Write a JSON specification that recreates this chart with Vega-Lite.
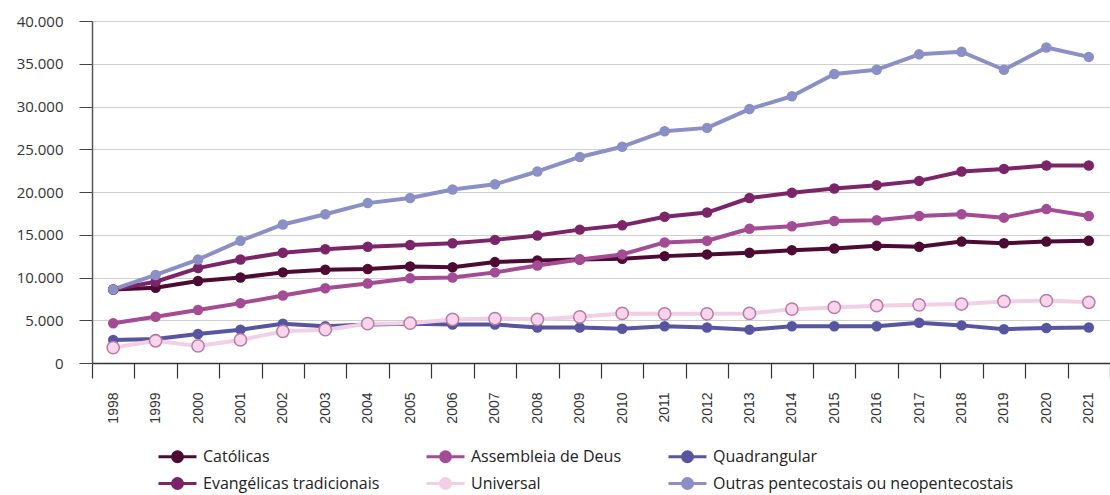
{
  "$schema": "https://vega.github.io/schema/vega-lite/v6.json",
  "width": 1018,
  "height": 342,
  "autosize": "none",
  "padding": {"left": 92, "top": 21, "right": 0, "bottom": 132},
  "background": "white",
  "config": {
    "locale": {"number": {"decimal": ",", "thousands": ".", "grouping": [3], "currency": ["R$", ""]}},
    "view": {"stroke": null},
    "font": "Open Sans"
  },
  "data": {"values": [
    {"year":"1998","series":"Católicas","value":8600},{"year":"1999","series":"Católicas","value":8800},{"year":"2000","series":"Católicas","value":9600},{"year":"2001","series":"Católicas","value":10000},{"year":"2002","series":"Católicas","value":10600},{"year":"2003","series":"Católicas","value":10900},{"year":"2004","series":"Católicas","value":11000},{"year":"2005","series":"Católicas","value":11300},{"year":"2006","series":"Católicas","value":11200},{"year":"2007","series":"Católicas","value":11800},{"year":"2008","series":"Católicas","value":12000},{"year":"2009","series":"Católicas","value":12100},{"year":"2010","series":"Católicas","value":12200},{"year":"2011","series":"Católicas","value":12500},{"year":"2012","series":"Católicas","value":12700},{"year":"2013","series":"Católicas","value":12900},{"year":"2014","series":"Católicas","value":13200},{"year":"2015","series":"Católicas","value":13400},{"year":"2016","series":"Católicas","value":13700},{"year":"2017","series":"Católicas","value":13600},{"year":"2018","series":"Católicas","value":14200},{"year":"2019","series":"Católicas","value":14000},{"year":"2020","series":"Católicas","value":14200},{"year":"2021","series":"Católicas","value":14300},
    {"year":"1998","series":"Evangélicas tradicionais","value":8600},{"year":"1999","series":"Evangélicas tradicionais","value":9500},{"year":"2000","series":"Evangélicas tradicionais","value":11100},{"year":"2001","series":"Evangélicas tradicionais","value":12100},{"year":"2002","series":"Evangélicas tradicionais","value":12900},{"year":"2003","series":"Evangélicas tradicionais","value":13300},{"year":"2004","series":"Evangélicas tradicionais","value":13600},{"year":"2005","series":"Evangélicas tradicionais","value":13800},{"year":"2006","series":"Evangélicas tradicionais","value":14000},{"year":"2007","series":"Evangélicas tradicionais","value":14400},{"year":"2008","series":"Evangélicas tradicionais","value":14900},{"year":"2009","series":"Evangélicas tradicionais","value":15600},{"year":"2010","series":"Evangélicas tradicionais","value":16100},{"year":"2011","series":"Evangélicas tradicionais","value":17100},{"year":"2012","series":"Evangélicas tradicionais","value":17600},{"year":"2013","series":"Evangélicas tradicionais","value":19300},{"year":"2014","series":"Evangélicas tradicionais","value":19900},{"year":"2015","series":"Evangélicas tradicionais","value":20400},{"year":"2016","series":"Evangélicas tradicionais","value":20800},{"year":"2017","series":"Evangélicas tradicionais","value":21300},{"year":"2018","series":"Evangélicas tradicionais","value":22400},{"year":"2019","series":"Evangélicas tradicionais","value":22700},{"year":"2020","series":"Evangélicas tradicionais","value":23100},{"year":"2021","series":"Evangélicas tradicionais","value":23100},
    {"year":"1998","series":"Assembleia de Deus","value":4650},{"year":"1999","series":"Assembleia de Deus","value":5400},{"year":"2000","series":"Assembleia de Deus","value":6200},{"year":"2001","series":"Assembleia de Deus","value":7000},{"year":"2002","series":"Assembleia de Deus","value":7900},{"year":"2003","series":"Assembleia de Deus","value":8750},{"year":"2004","series":"Assembleia de Deus","value":9300},{"year":"2005","series":"Assembleia de Deus","value":9900},{"year":"2006","series":"Assembleia de Deus","value":10000},{"year":"2007","series":"Assembleia de Deus","value":10600},{"year":"2008","series":"Assembleia de Deus","value":11400},{"year":"2009","series":"Assembleia de Deus","value":12100},{"year":"2010","series":"Assembleia de Deus","value":12700},{"year":"2011","series":"Assembleia de Deus","value":14100},{"year":"2012","series":"Assembleia de Deus","value":14300},{"year":"2013","series":"Assembleia de Deus","value":15700},{"year":"2014","series":"Assembleia de Deus","value":16000},{"year":"2015","series":"Assembleia de Deus","value":16600},{"year":"2016","series":"Assembleia de Deus","value":16700},{"year":"2017","series":"Assembleia de Deus","value":17200},{"year":"2018","series":"Assembleia de Deus","value":17400},{"year":"2019","series":"Assembleia de Deus","value":17000},{"year":"2020","series":"Assembleia de Deus","value":18000},{"year":"2021","series":"Assembleia de Deus","value":17200},
    {"year":"1998","series":"Quadrangular","value":2700},{"year":"1999","series":"Quadrangular","value":2800},{"year":"2000","series":"Quadrangular","value":3400},{"year":"2001","series":"Quadrangular","value":3900},{"year":"2002","series":"Quadrangular","value":4600},{"year":"2003","series":"Quadrangular","value":4300},{"year":"2004","series":"Quadrangular","value":4500},{"year":"2005","series":"Quadrangular","value":4600},{"year":"2006","series":"Quadrangular","value":4500},{"year":"2007","series":"Quadrangular","value":4500},{"year":"2008","series":"Quadrangular","value":4150},{"year":"2009","series":"Quadrangular","value":4150},{"year":"2010","series":"Quadrangular","value":4000},{"year":"2011","series":"Quadrangular","value":4300},{"year":"2012","series":"Quadrangular","value":4150},{"year":"2013","series":"Quadrangular","value":3900},{"year":"2014","series":"Quadrangular","value":4300},{"year":"2015","series":"Quadrangular","value":4300},{"year":"2016","series":"Quadrangular","value":4300},{"year":"2017","series":"Quadrangular","value":4700},{"year":"2018","series":"Quadrangular","value":4400},{"year":"2019","series":"Quadrangular","value":3950},{"year":"2020","series":"Quadrangular","value":4100},{"year":"2021","series":"Quadrangular","value":4150},
    {"year":"1998","series":"Universal","value":1800},{"year":"1999","series":"Universal","value":2600},{"year":"2000","series":"Universal","value":2000},{"year":"2001","series":"Universal","value":2700},{"year":"2002","series":"Universal","value":3700},{"year":"2003","series":"Universal","value":3900},{"year":"2004","series":"Universal","value":4600},{"year":"2005","series":"Universal","value":4650},{"year":"2006","series":"Universal","value":5100},{"year":"2007","series":"Universal","value":5200},{"year":"2008","series":"Universal","value":5100},{"year":"2009","series":"Universal","value":5400},{"year":"2010","series":"Universal","value":5800},{"year":"2011","series":"Universal","value":5750},{"year":"2012","series":"Universal","value":5750},{"year":"2013","series":"Universal","value":5800},{"year":"2014","series":"Universal","value":6300},{"year":"2015","series":"Universal","value":6500},{"year":"2016","series":"Universal","value":6700},{"year":"2017","series":"Universal","value":6800},{"year":"2018","series":"Universal","value":6900},{"year":"2019","series":"Universal","value":7200},{"year":"2020","series":"Universal","value":7300},{"year":"2021","series":"Universal","value":7100},
    {"year":"1998","series":"Outras pentecostais ou neopentecostais","value":8600},{"year":"1999","series":"Outras pentecostais ou neopentecostais","value":10300},{"year":"2000","series":"Outras pentecostais ou neopentecostais","value":12100},{"year":"2001","series":"Outras pentecostais ou neopentecostais","value":14300},{"year":"2002","series":"Outras pentecostais ou neopentecostais","value":16200},{"year":"2003","series":"Outras pentecostais ou neopentecostais","value":17400},{"year":"2004","series":"Outras pentecostais ou neopentecostais","value":18700},{"year":"2005","series":"Outras pentecostais ou neopentecostais","value":19300},{"year":"2006","series":"Outras pentecostais ou neopentecostais","value":20300},{"year":"2007","series":"Outras pentecostais ou neopentecostais","value":20900},{"year":"2008","series":"Outras pentecostais ou neopentecostais","value":22400},{"year":"2009","series":"Outras pentecostais ou neopentecostais","value":24100},{"year":"2010","series":"Outras pentecostais ou neopentecostais","value":25300},{"year":"2011","series":"Outras pentecostais ou neopentecostais","value":27100},{"year":"2012","series":"Outras pentecostais ou neopentecostais","value":27500},{"year":"2013","series":"Outras pentecostais ou neopentecostais","value":29700},{"year":"2014","series":"Outras pentecostais ou neopentecostais","value":31200},{"year":"2015","series":"Outras pentecostais ou neopentecostais","value":33800},{"year":"2016","series":"Outras pentecostais ou neopentecostais","value":34300},{"year":"2017","series":"Outras pentecostais ou neopentecostais","value":36100},{"year":"2018","series":"Outras pentecostais ou neopentecostais","value":36400},{"year":"2019","series":"Outras pentecostais ou neopentecostais","value":34300},{"year":"2020","series":"Outras pentecostais ou neopentecostais","value":36900},{"year":"2021","series":"Outras pentecostais ou neopentecostais","value":35800}
  ]},
  "encoding": {
    "x": {
      "field": "year", "type": "ordinal",
      "scale": {"type": "band", "paddingInner": 0, "paddingOuter": 0},
      "axis": {
        "title": null, "labelAngle": -90, "tickBand": "extent", "tickSize": 15,
        "tickColor": "#333", "domainColor": "#333", "domainWidth": 1.5, "tickWidth": 1.2,
        "labelFont": "Liberation Sans", "labelFontSize": 14, "labelColor": "#333", "labelPadding": 14, "grid": false
      }
    },
    "y": {
      "field": "value", "type": "quantitative",
      "scale": {"domain": [0, 40000], "nice": false},
      "axis": {
        "title": null, "values": [0,5000,10000,15000,20000,25000,30000,35000,40000],
        "format": ",d", "tickSize": 13, "tickColor": "#444", "domainColor": "#555",
        "domainWidth": 1.5, "labelPadding": 16, "labelFontSize": 15, "labelColor": "#333",
        "gridColor": "#cfcfcf", "gridWidth": 1.2
      }
    }
  },
  "layer": [
    {
      "mark": {"type": "line", "strokeWidth": 4, "strokeJoin": "round"},
      "encoding": {
        "color": {
          "field": "series", "type": "nominal",
          "scale": {
            "domain": ["Católicas","Assembleia de Deus","Quadrangular","Evangélicas tradicionais","Universal","Outras pentecostais ou neopentecostais"],
            "range": ["#4d0b33","#a34b93","#5755a0","#7b2468","#f2cfe4","#8a8fc6"]
          },
          "legend": {
            "title": null, "orient": "none", "legendX": 74, "legendY": 424,
            "direction": "horizontal", "columns": 3, "columnPadding": 40, "rowPadding": 4,
            "padding": 0, "labelFontSize": 16, "labelColor": "#222", "labelOffset": 14, "labelLimit": 0,
            "symbolType": "M-1.9,0H-0.5M0.5,0H1.9M0.5,0A0.5,0.5 0 1,1 -0.5,0A0.5,0.5 0 1,1 0.5,0Z",
            "symbolSize": 400, "symbolStrokeWidth": 3,
            "encode": {
              "symbols": {"update": {
                "fill": [{"test": "datum.value === 'Universal'", "value": "#f8d5ec"}, {"scale": "color", "field": "value"}],
                "stroke": [{"test": "datum.value === 'Universal'", "value": "#e0b4d0"}, {"scale": "color", "field": "value"}]
              }}
            }
          }
        }
      }
    },
    {
      "transform": [{"filter": "datum.series !== 'Universal'"}],
      "mark": {"type": "point", "filled": true, "opacity": 1, "size": 110, "shape": "circle"},
      "encoding": {
        "color": {"field": "series", "type": "nominal", "legend": null}
      }
    },
    {
      "transform": [{"filter": "datum.series === 'Universal'"}],
      "mark": {"type": "point", "filled": false, "opacity": 1, "size": 150, "shape": "circle", "fill": "#f8d5ec", "fillOpacity": 1, "stroke": "#b77ba6", "strokeWidth": 1.5},
      "encoding": {}
    }
  ]
}
